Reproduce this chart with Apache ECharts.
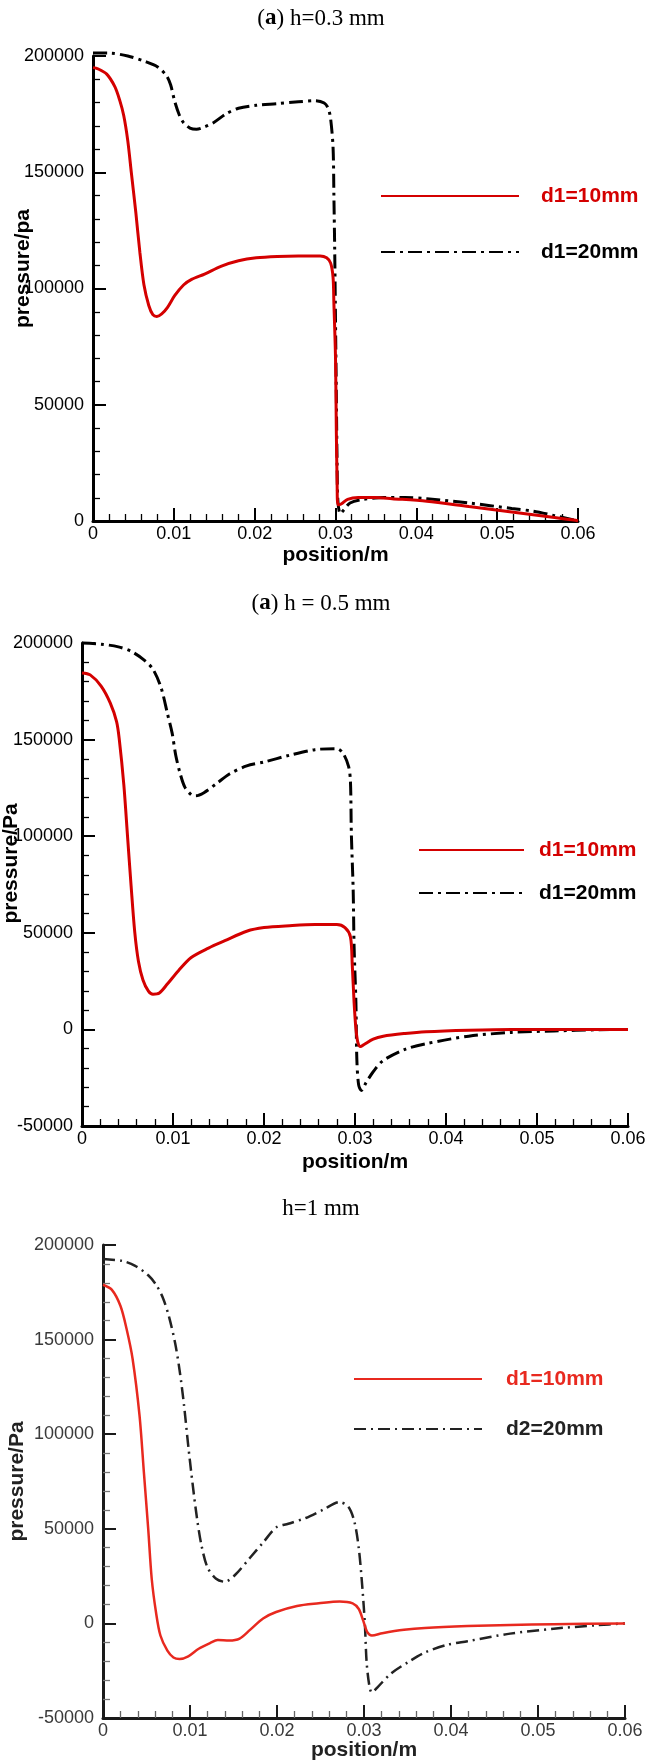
<!DOCTYPE html>
<html><head><meta charset="utf-8">
<script src="https://cdn.jsdelivr.net/npm/echarts@6.0.0/dist/echarts.min.js"></script>
<style>html,body{margin:0;padding:0;background:#fff}#c{width:668px;height:1764px}</style>
</head><body><div id="c"></div>
<script>
// ---- tick labels / titles ----
const titles = ['h=0.3 mm', 'h = 0.5 mm', 'h=1 mm'];
const yNames = ['pressure/pa', 'pressure/Pa', 'pressure/Pa'];
const legendNames = [['d1=10mm', 'd1=20mm'], ['d1=10mm', 'd1=20mm'], ['d1=10mm', 'd2=20mm']];

// ---- (a) h=0.3 mm ----
const h03_x_d10 = [0, 0.0006, 0.0017, 0.0027, 0.0033, 0.0038, 0.0043, 0.00475, 0.0053, 0.0058, 0.0063, 0.0069, 0.0074, 0.0079, 0.0085, 0.0092, 0.0101, 0.0112, 0.0122, 0.0138, 0.0159, 0.0180, 0.0202, 0.0228, 0.0254, 0.0281, 0.0289, 0.0294, 0.0297, 0.0298, 0.0300, 0.0301, 0.0302, 0.0303, 0.0307, 0.0315, 0.0328, 0.0349, 0.0370, 0.0413, 0.0465, 0.0518, 0.0571, 0.0597, 0.06];
const h03_p_d10 = [195000, 194500, 192200, 186800, 181000, 174400, 163600, 149600, 132600, 115500, 101600, 92700, 88800, 88000, 89100, 91800, 96900, 101500, 103900, 106200, 109600, 111900, 113200, 113800, 114000, 114000, 113200, 110900, 104700, 93800, 70500, 39500, 16300, 7000, 7300, 9300, 10100, 10100, 9600, 8500, 6200, 3900, 1550, 300, 0];
const h03_x_d20 = [0, 0.0022, 0.0043, 0.0064, 0.0080, 0.0091, 0.0096, 0.0101, 0.0107, 0.0112, 0.0120, 0.0128, 0.0138, 0.0149, 0.0165, 0.0180, 0.0202, 0.0228, 0.0254, 0.0275, 0.0286, 0.0291, 0.0294, 0.0297, 0.0298, 0.0299, 0.0300, 0.0301, 0.0302, 0.0303, 0.0306, 0.0310, 0.0318, 0.0334, 0.0360, 0.0386, 0.0413, 0.0465, 0.0518, 0.0545, 0.0571, 0.0597, 0.06];
const h03_p_d20 = [201300, 201200, 200000, 197700, 195300, 191500, 187600, 180600, 174400, 171300, 169000, 168500, 169500, 171300, 175200, 177500, 178800, 179500, 180300, 180800, 179800, 177500, 172900, 160500, 140300, 117000, 86000, 55000, 24000, 8500, 3100, 4650, 7750, 9300, 10100, 10100, 9600, 7750, 5400, 4200, 2300, 300, 0];

// ---- (a) h = 0.5 mm ----
const h05_x_d10 = [0, 0.0009, 0.0021, 0.0031, 0.0038, 0.0041, 0.0046, 0.0050, 0.0054, 0.0058, 0.0062, 0.0067, 0.0073, 0.0078, 0.0085, 0.0094, 0.0106, 0.0120, 0.0139, 0.0157, 0.0181, 0.0200, 0.0228, 0.0256, 0.0280, 0.0289, 0.0295, 0.0297, 0.0299, 0.0301, 0.0303, 0.0306, 0.0310, 0.0320, 0.0331, 0.0355, 0.0378, 0.0425, 0.0472, 0.06];
const h05_p_d10 = [184500, 183500, 177700, 169000, 159300, 150000, 126400, 100200, 74000, 50200, 35300, 25600, 19800, 18200, 18800, 23600, 30400, 37200, 42100, 45900, 50800, 52700, 53700, 54300, 54300, 52700, 47900, 33300, 14000, 400, -6400, -8900, -7800, -5000, -3500, -2100, -1200, -400, 0, 0];
const h05_x_d20 = [0, 0.0021, 0.0040, 0.0054, 0.0068, 0.0078, 0.0087, 0.0094, 0.0099, 0.0103, 0.0108, 0.0113, 0.0120, 0.0125, 0.0134, 0.0148, 0.0162, 0.0181, 0.0200, 0.0228, 0.0256, 0.0280, 0.0287, 0.0293, 0.0295, 0.0296, 0.0298, 0.0299, 0.0301, 0.0302, 0.0304, 0.0307, 0.0312, 0.0320, 0.0331, 0.0355, 0.0378, 0.0425, 0.0472, 0.0519, 0.0566, 0.06];
const h05_p_d20 = [200000, 199400, 198000, 195700, 191300, 186400, 176700, 163200, 153500, 141900, 132200, 125400, 121500, 120900, 122500, 127300, 132200, 136400, 138400, 141900, 144800, 145300, 142800, 136000, 128300, 101200, 72100, 43000, 14000, -15100, -28700, -31600, -27700, -21900, -16100, -10300, -7400, -3500, -1550, -800, -200, 0];

// ---- h=1 mm ----
const h1_x_d10 = [0, 0.0010, 0.0020, 0.0027, 0.0034, 0.0042, 0.0047, 0.0052, 0.0056, 0.0061, 0.0066, 0.0074, 0.0081, 0.0088, 0.0098, 0.0110, 0.0123, 0.0132, 0.0145, 0.0157, 0.0169, 0.0184, 0.0199, 0.0223, 0.0248, 0.0272, 0.0287, 0.0294, 0.0299, 0.0304, 0.0309, 0.0321, 0.0346, 0.0370, 0.0419, 0.0468, 0.0518, 0.06];
const h1_p_d10 = [179000, 176400, 167900, 155900, 139900, 109800, 79800, 49700, 23600, 5600, -6400, -14400, -18000, -18800, -17400, -13400, -10400, -8800, -9000, -8000, -3400, 2600, 6000, 9200, 10600, 11600, 10600, 7600, 1600, -4800, -6400, -5200, -3400, -2400, -1400, -800, -400, 0];
const h1_x_d20 = [0, 0.0022, 0.0037, 0.0052, 0.0061, 0.0069, 0.0076, 0.0083, 0.0088, 0.0093, 0.0098, 0.0103, 0.0108, 0.0113, 0.0120, 0.0130, 0.0140, 0.0152, 0.0169, 0.0184, 0.0199, 0.0213, 0.0233, 0.0253, 0.0272, 0.0282, 0.0289, 0.0294, 0.0298, 0.0301, 0.0303, 0.0306, 0.0309, 0.0316, 0.0331, 0.0351, 0.0370, 0.0395, 0.0419, 0.0468, 0.0518, 0.0567, 0.06];
const h1_p_d20 = [192600, 191600, 189000, 184000, 179000, 171900, 161900, 147900, 133900, 115800, 93800, 73700, 55700, 41700, 29700, 23600, 22000, 25700, 34700, 42700, 50700, 52700, 55700, 60100, 64100, 61700, 53700, 39700, 19600, -400, -20400, -32500, -36500, -33500, -26500, -20400, -15400, -11400, -9400, -5400, -2800, -1000, 0];

const zip = (xs, ys) => xs.map((x, i) => [x, ys[i]]);

// ---- layout ----
const panels = [
  { grid: {left: 93, top: 56, width: 485, height: 465}, yMin: 0, titleTop: 7,
    yNameGap: 59, yNamePad: 40, xNameGap: 24,
    legend: {left: 380, top: 185, w: 138, gap: 34, pad: 17},
    red: '#d40000', black: '#000', axis: '#000', text: '#000', lw: 3, dash: [14, 5, 3, 5],
    data: [zip(h03_x_d10, h03_p_d10), zip(h03_x_d20, h03_p_d20)] },
  { grid: {left: 82, top: 643, width: 546, height: 483}, yMin: -50000, titleTop: 592,
    yNameGap: 60, yNamePad: 42, xNameGap: 26,
    legend: {left: 418, top: 839, w: 105, gap: 21, pad: 10},
    red: '#d40000', black: '#000', axis: '#000', text: '#000', lw: 3, dash: [14, 5, 3, 5],
    data: [zip(h05_x_d10, h05_p_d10), zip(h05_x_d20, h05_p_d20)] },
  { grid: {left: 103, top: 1245, width: 522, height: 473}, yMin: -50000, titleTop: 1197,
    yNameGap: 75, yNamePad: 0, xNameGap: 22,
    legend: {left: 353, top: 1368, w: 128, gap: 28, pad: 19},
    red: '#e8291f', black: '#222', axis: '#1a1a1a', text: '#3a3a3a', lw: 2.5, dash: [12, 5, 2, 5],
    data: [zip(h1_x_d10, h1_p_d10), zip(h1_x_d20, h1_p_d20)] }
];

const option = {
  animation: false,
  backgroundColor: '#fff',
  title: [], grid: [], xAxis: [], yAxis: [], legend: [], series: []
};

panels.forEach((p, i) => {
  const titleText = i < 2 ? '{n|(}{b|a}{n|) ' + titles[i] + '}' : '{n|' + titles[i] + '}';
  option.title.push({
    text: titleText, left: 321, textAlign: 'center', top: p.titleTop, padding: 0,
    textStyle: { fontWeight: 'normal', rich: {
      n: {fontFamily: 'Liberation Serif', fontSize: 23, fontWeight: 'normal', color: '#000'},
      b: {fontFamily: 'Liberation Serif', fontSize: 23, fontWeight: 'bold', color: '#000'} } }
  });
  option.grid.push(Object.assign({outerBoundsMode: 'none', containLabel: false}, p.grid));
  option.xAxis.push({
    type: 'value', gridIndex: i, min: 0, max: 0.06, interval: 0.01,
    name: 'position/m', nameLocation: 'middle', nameGap: p.xNameGap, nameMoveOverlap: false,
    nameTextStyle: {fontFamily: 'Liberation Sans', fontWeight: 'bold', fontSize: 21, color: i === 2 ? '#222' : '#000'},
    axisLine: {show: true, onZero: false, lineStyle: {color: p.axis, width: 3}},
    axisTick: {show: true, inside: true, length: 13, lineStyle: {color: p.axis, width: 2}},
    minorTick: {show: true, splitNumber: 5, length: 7, lineStyle: {color: i === 2 ? '#666' : '#000', width: 1.3}},
    splitLine: {show: false},
    axisLabel: {fontFamily: 'Liberation Sans', fontSize: 18, color: p.text, margin: 4,
      formatter: v => String(+v.toFixed(2))}
  });
  option.yAxis.push({
    type: 'value', gridIndex: i, min: p.yMin, max: 200000, interval: 50000,
    name: yNames[i], nameLocation: 'middle', nameGap: p.yNameGap, nameRotate: 90, nameMoveOverlap: false,
    nameTextStyle: {fontFamily: 'Liberation Sans', fontWeight: 'bold', fontSize: 21, color: i === 2 ? '#222' : '#000',
      padding: [0, 0, 0, p.yNamePad]},
    axisLine: {show: true, onZero: false, lineStyle: {color: p.axis, width: 3}},
    axisTick: {show: true, inside: true, length: 13, lineStyle: {color: p.axis, width: 2}},
    minorTick: {show: true, splitNumber: 5, length: 7, lineStyle: {color: i === 2 ? '#777' : '#000', width: 1.3}},
    splitLine: {show: false},
    axisLabel: {fontFamily: 'Liberation Sans', fontSize: 18, color: p.text, margin: 9,
      formatter: v => String(v)}
  });
  const n0 = legendNames[i][0] + '|' + i, n1 = legendNames[i][1] + '|' + i;
  option.legend.push({
    orient: 'vertical', left: p.legend.left, top: p.legend.top, itemWidth: p.legend.w, itemHeight: 22,
    itemGap: p.legend.gap, padding: 0, selectedMode: false,
    itemStyle: {opacity: 0, color: 'rgba(0,0,0,0)', borderWidth: 0},
    formatter: name => name.split('|')[0],
    textStyle: {fontFamily: 'Liberation Sans', fontWeight: 'bold', fontSize: 21, lineHeight: 22, padding: [0, 0, 0, p.legend.pad]},
    data: [
      {name: n0, textStyle: {color: p.red}},
      {name: n1, textStyle: {color: i === 2 ? '#222' : '#000'}}
    ]
  });
  option.series.push({
    name: n0, type: 'line', xAxisIndex: i, yAxisIndex: i, data: p.data[0],
    symbol: 'none', showSymbol: false, smooth: 0.3, clip: false, z: 3,
    lineStyle: {color: p.red, width: p.lw, type: 'solid'}, itemStyle: {color: p.red}
  });
  option.series.push({
    name: n1, type: 'line', xAxisIndex: i, yAxisIndex: i, data: p.data[1],
    symbol: 'none', showSymbol: false, smooth: 0.3, clip: false, z: 2,
    lineStyle: {color: p.black, width: p.lw, type: p.dash}, itemStyle: {color: p.black}
  });
});

const chart = echarts.init(document.getElementById('c'), null, {renderer: 'canvas'});
chart.setOption(option);
</script></body></html>
